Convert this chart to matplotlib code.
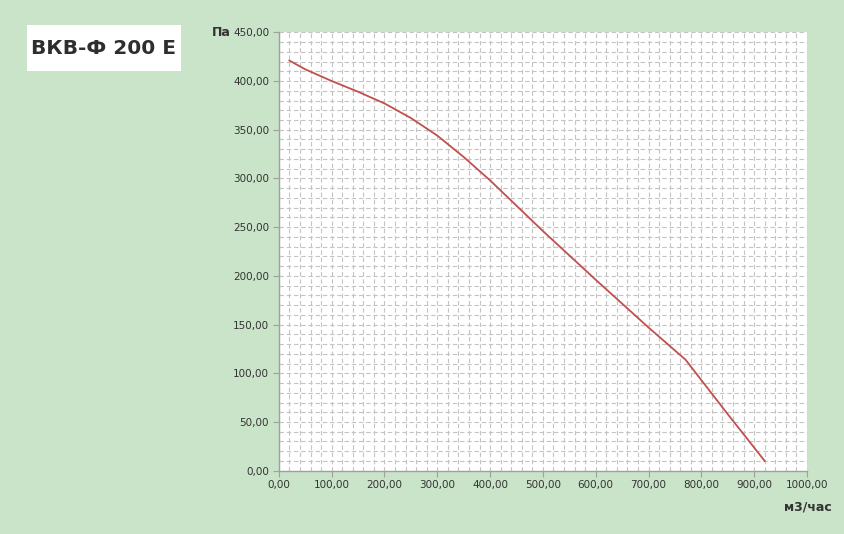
import matplotlib
matplotlib.use("Agg")
import matplotlib.pyplot as plt
from matplotlib.ticker import MultipleLocator, FuncFormatter
from matplotlib.patches import Rectangle
from matplotlib import font_manager

flow = [20, 50, 100, 150, 200, 250, 300, 350, 400, 450, 500, 600, 700, 770, 800, 850, 920]
pressure = [421, 412, 400, 389, 377, 362, 344, 322, 298, 272, 246, 196, 147, 114, 93, 58, 10]
title = "ВКВ-Ф 200 Е"
x_label = "м3/час"
y_label = "Па"

names = {f.name for f in font_manager.fontManager.ttflist}
cond = [n for n in ["DejaVu Sans Condensed", "Liberation Sans Narrow"] if n in names]
title_family = cond[:1] + ["DejaVu Sans"]
title_size = 17 if cond else 14.5

bg = "#c9e4c9"
fig = plt.figure(figsize=(8.45, 5.34), dpi=100, facecolor=bg)
ax = fig.add_axes([0.330, 0.1185, 0.625, 0.821])
ax.set_facecolor("white")

ax.plot(flow, pressure, color="#c0504d", lw=1.3, zorder=3)

ax.set_xlim(0, 1000)
ax.set_ylim(0, 450)
ax.xaxis.set_major_locator(MultipleLocator(100))
ax.xaxis.set_minor_locator(MultipleLocator(20))
ax.yaxis.set_major_locator(MultipleLocator(50))
ax.yaxis.set_minor_locator(MultipleLocator(10))
fmt = FuncFormatter(lambda v, p: f"{v:.2f}".replace(".", ","))
ax.xaxis.set_major_formatter(fmt)
ax.yaxis.set_major_formatter(fmt)

ax.grid(which="both", color="#c4c4c4", linestyle=(0, (4, 2.5)), lw=0.8)
ax.set_axisbelow(True)
for s in ["top", "right"]:
    ax.spines[s].set_visible(False)
for s in ["left", "bottom"]:
    ax.spines[s].set_color("#a0a0a0")
    ax.spines[s].set_linewidth(1.0)
ax.tick_params(which="major", length=4, color="#a0a0a0", labelsize=7.5,
               labelcolor="#333333", pad=3)
ax.tick_params(which="minor", length=0)

fig.text(212 / 845, 1 - 33 / 534, y_label, fontsize=9, fontweight="bold",
         color="#333333", ha="left", va="center")
fig.text(832 / 845, 1 - 507 / 534, x_label, fontsize=9, fontweight="bold",
         color="#333333", ha="right", va="center")

fig.patches.append(Rectangle((27 / 845, 1 - 71 / 534), 154 / 845, 46 / 534,
                             transform=fig.transFigure, facecolor="white",
                             edgecolor="none"))
fig.text(104 / 845, 1 - 49 / 534, title, fontsize=title_size, fontweight="bold",
         family=title_family, color="#2e2e2e",
         ha="center", va="center")

fig.savefig("out.png", dpi=100, facecolor=bg)
